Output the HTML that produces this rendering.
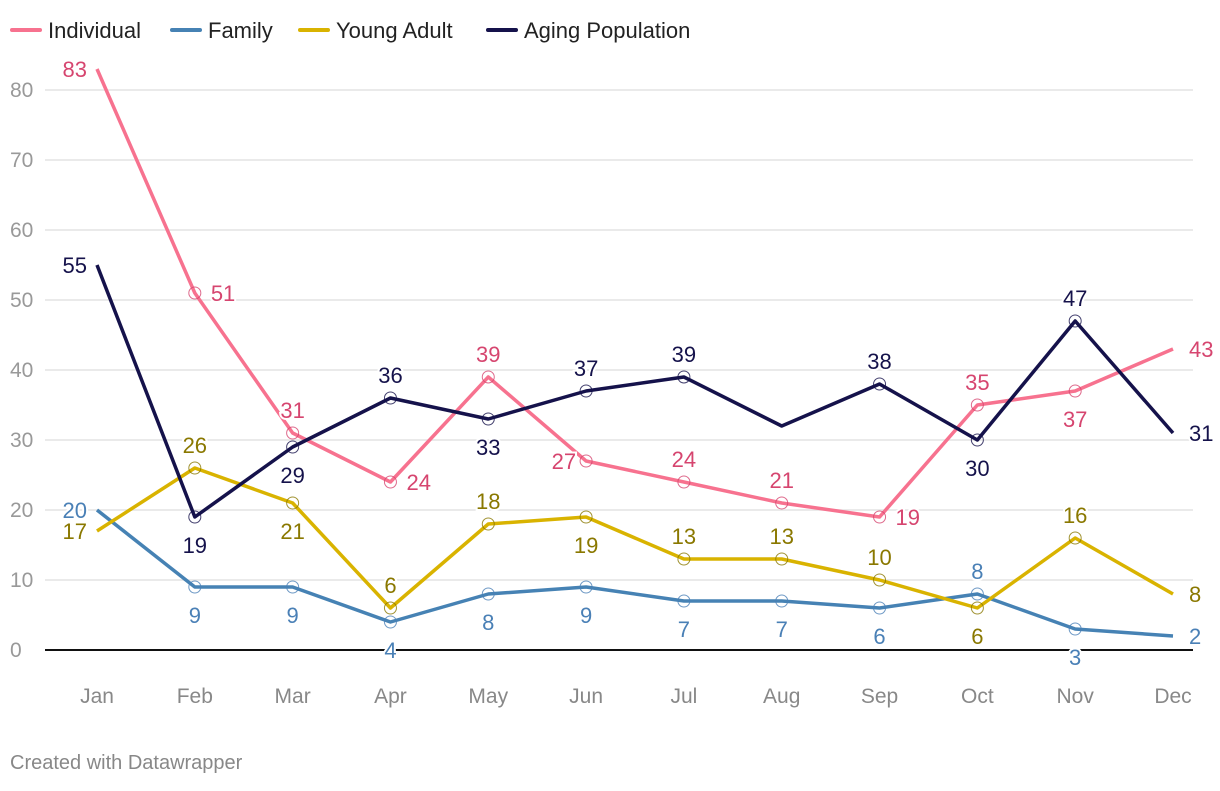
<!DOCTYPE html>
<html><head><meta charset="utf-8"><style>
body{margin:0;background:#fff;font-family:"Liberation Sans",sans-serif;}
svg text{font-family:"Liberation Sans",sans-serif;}
</style></head><body>
<svg id="c" width="1220" height="786"></svg>
<script>
const months=["Jan","Feb","Mar","Apr","May","Jun","Jul","Aug","Sep","Oct","Nov","Dec"];
const individual=[83,51,31,24,39,27,24,21,19,35,37,43];
const family=[20,9,9,4,8,9,7,7,6,8,3,2];
const youngAdult=[17,26,21,6,18,19,13,13,10,6,16,8];
const agingPopulation=[55,19,29,36,33,37,39,32,38,30,47,31];
const yTicks=[0,10,20,30,40,50,60,70,80];
const seriesNames=["Individual","Family","Young Adult","Aging Population"];
const posInd="lraralaarabr",posFam="lbbbbbbbbabr",posYa="labaabaaabar",posAg="lbbabaa-abar";
const ns="http://www.w3.org/2000/svg",svg=document.getElementById('c');
const X=i=>97+i*(1173-97)/11, Y=v=>650-v*7;
function mk(t,a,p){const e=document.createElementNS(ns,t);for(const k in a)e.setAttribute(k,a[k]);(p||svg).appendChild(e);return e;}
yTicks.forEach(t=>{
  if(t>0){const g=mk('line',{x1:45,x2:1193,y1:Y(t),y2:Y(t),stroke:'#e3e3e3','stroke-width':1.5});
  
  }
  const l=mk('text',{x:10,y:Y(t)+7,fill:'#999','font-size':21});l.textContent=t;
  
  
});
const base=mk('line',{x1:45,x2:1193,y1:650,y2:650,stroke:'#111','stroke-width':2});


months.forEach((m,i)=>{const t=mk('text',{x:X(i),y:703,fill:'#888','font-size':21,'text-anchor':'middle'});t.textContent=m;
  
  });
const S=[[individual,'#f7728f','#d6456f',posInd],[family,'#4682b4','#4a80b6',posFam],[youngAdult,'#d9b300','#8a7800',posYa],[agingPopulation,'#15124b','#15124b',posAg]];
S.forEach(([d,c,lc,pos],si)=>{
  const g=mk('g',{});
  
  
  const p=mk('polyline',{points:d.map((v,i)=>X(i)+','+Y(v)).join(' '),fill:'none',stroke:c,'stroke-width':3.5,'stroke-linejoin':'round'},g);
  
  
  d.forEach((v,i)=>{
    const ps=pos[i];
    if(ps==='-')return;
    if(i>0&&i<11){const ci=mk('circle',{cx:X(i),cy:Y(v),r:6,fill:'none',stroke:lc,'stroke-width':1,opacity:0.8},g);
      
      }
    let x=X(i),y=Y(v),a='middle';
    if(ps==='a')y-=23;else if(ps==='b')y+=28;else if(ps==='r'){x+=16;a='start';}else if(ps==='l'){x-=10;a='end';}
    const t=mk('text',{x:x,y:y+8,fill:lc,'font-size':22,'text-anchor':a,stroke:'#fff','stroke-width':4,'paint-order':'stroke'},g);
    t.textContent=v;
    
    
  });
});
const lxs=[10,170,298,486];
const lg=mk('g',{});


S.forEach(([d,c],si)=>{
  const lx=lxs[si];
  const e=mk('g',{},lg);
  
  
  mk('line',{x1:lx+2,x2:lx+30,y1:30,y2:30,stroke:c,'stroke-width':4,'stroke-linecap':'round'},e);
  const t=mk('text',{x:lx+38,y:38,fill:'#222','font-size':22},e);t.textContent=seriesNames[si];
});
const cr=mk('text',{x:10,y:769,fill:'#888','font-size':20});cr.textContent='Created with Datawrapper';


</script>
</body></html>
